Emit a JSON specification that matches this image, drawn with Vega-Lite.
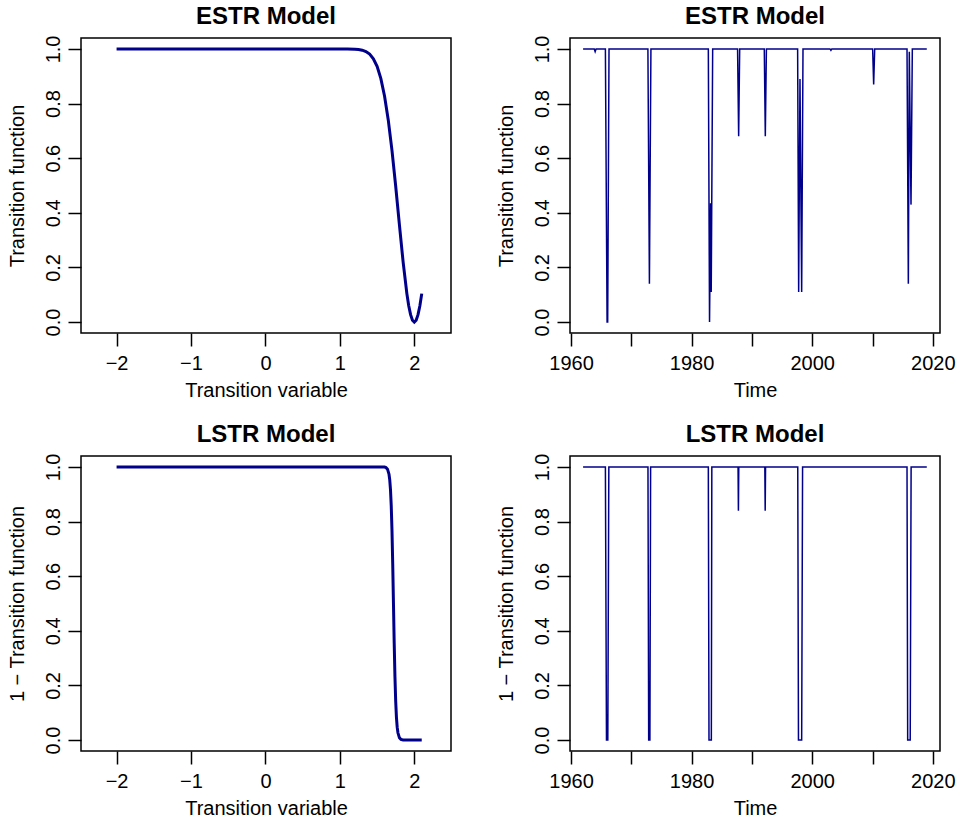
{
  "$schema": "https://vega.github.io/schema/vega-lite/v6.json",
  "padding": {"left": 6, "top": 4, "right": 0, "bottom": 0},
  "background": "white",
  "config": {
    "view": {"stroke": "black", "strokeWidth": 1.5},
    "font": "Liberation Sans",
    "axis": {"grid": false, "domain": false, "tickColor": "black", "tickWidth": 1.5, "tickSize": 13, "labelColor": "black", "labelFont": "Liberation Sans", "labelFontSize": 20, "titleFont": "Liberation Sans", "titleFontSize": 20, "titleFontWeight": "normal", "titleColor": "black", "labelFlush": false, "labelOverlap": false},
    "axisX": {"labelAngle": 0, "labelBaseline": "alphabetic", "labelPadding": 23, "titleBaseline": "alphabetic", "titleY": 63, "titleX": 185},
    "axisY": {"labelAngle": -90, "labelAlign": "center", "labelBaseline": "alphabetic", "labelPadding": 8.5, "titleAngle": -90, "titleAlign": "center", "titleBaseline": "alphabetic", "titleX": -58, "titleY": 147.5},
    "title": {"font": "Liberation Sans", "fontSize": 24, "fontWeight": "bold", "color": "black", "baseline": "alphabetic", "offset": 5.7, "frame": "group", "anchor": "middle"}
  },
  "datasets": {
    "estr_curve": [
      {"s": -2, "g": 1}, {"s": -1, "g": 1}, {"s": 0, "g": 1}, {"s": 0.5, "g": 1}, {"s": 1.0, "g": 1},
      {"s": 1.1, "g": 0.9999}, {"s": 1.2, "g": 0.9991}, {"s": 1.25, "g": 0.998}, {"s": 1.3, "g": 0.9954},
      {"s": 1.35, "g": 0.9904}, {"s": 1.4, "g": 0.9809}, {"s": 1.45, "g": 0.9641}, {"s": 1.5, "g": 0.9361},
      {"s": 1.55, "g": 0.8922}, {"s": 1.6, "g": 0.828}, {"s": 1.65, "g": 0.7401}, {"s": 1.7, "g": 0.6284},
      {"s": 1.75, "g": 0.4972}, {"s": 1.8, "g": 0.356}, {"s": 1.85, "g": 0.2193}, {"s": 1.9, "g": 0.1042},
      {"s": 1.925, "g": 0.06}, {"s": 1.95, "g": 0.0271}, {"s": 1.975, "g": 0.0069}, {"s": 2.0, "g": 0},
      {"s": 2.025, "g": 0.0069}, {"s": 2.05, "g": 0.0271}, {"s": 2.075, "g": 0.06}, {"s": 2.1, "g": 0.1042}
    ],
    "lstr_curve": [
      {"s": -2, "g": 1}, {"s": -1, "g": 1}, {"s": 0, "g": 1}, {"s": 1, "g": 1}, {"s": 1.5, "g": 1},
      {"s": 1.6, "g": 0.9993}, {"s": 1.62, "g": 0.9975}, {"s": 1.64, "g": 0.9918}, {"s": 1.66, "g": 0.9734},
      {"s": 1.67, "g": 0.9526}, {"s": 1.68, "g": 0.9168}, {"s": 1.69, "g": 0.8581}, {"s": 1.7, "g": 0.7685},
      {"s": 1.71, "g": 0.6457}, {"s": 1.72, "g": 0.5}, {"s": 1.73, "g": 0.3543}, {"s": 1.74, "g": 0.2315},
      {"s": 1.75, "g": 0.1419}, {"s": 1.76, "g": 0.0832}, {"s": 1.77, "g": 0.0474}, {"s": 1.78, "g": 0.0266},
      {"s": 1.8, "g": 0.0082}, {"s": 1.82, "g": 0.0025}, {"s": 1.85, "g": 0.0004}, {"s": 1.9, "g": 0},
      {"s": 2.0, "g": 0}, {"s": 2.1, "g": 0}
    ],
    "estr_time": [
      {"year": 1962.0, "g": 1}, {"year": 1963.85, "g": 1}, {"year": 1964.0, "g": 0.99}, {"year": 1964.15, "g": 1},
      {"year": 1965.7, "g": 1}, {"year": 1965.98, "g": 0}, {"year": 1966.08, "g": 0}, {"year": 1966.3, "g": 1},
      {"year": 1972.75, "g": 1}, {"year": 1973.0, "g": 0.14}, {"year": 1973.25, "g": 1},
      {"year": 1982.77, "g": 1}, {"year": 1982.97, "g": 0}, {"year": 1983.15, "g": 0.435}, {"year": 1983.25, "g": 0.11}, {"year": 1983.49, "g": 1},
      {"year": 1987.62, "g": 1}, {"year": 1987.8, "g": 0.68}, {"year": 1987.97, "g": 1},
      {"year": 1992.05, "g": 1}, {"year": 1992.22, "g": 0.68}, {"year": 1992.4, "g": 1},
      {"year": 1997.58, "g": 1}, {"year": 1997.75, "g": 0.11}, {"year": 1997.97, "g": 0.89}, {"year": 1998.25, "g": 0.11}, {"year": 1998.47, "g": 1},
      {"year": 2002.95, "g": 1}, {"year": 2003.1, "g": 0.995}, {"year": 2003.25, "g": 1},
      {"year": 2010.02, "g": 1}, {"year": 2010.19, "g": 0.87}, {"year": 2010.36, "g": 1},
      {"year": 2015.72, "g": 1}, {"year": 2015.94, "g": 0.14}, {"year": 2016.1, "g": 0.99}, {"year": 2016.38, "g": 0.43}, {"year": 2016.6, "g": 1},
      {"year": 2019.0, "g": 1}
    ],
    "lstr_time": [
      {"year": 1962.0, "g": 1},
      {"year": 1965.7, "g": 1}, {"year": 1965.88, "g": 0}, {"year": 1966.1, "g": 0}, {"year": 1966.27, "g": 1},
      {"year": 1972.76, "g": 1}, {"year": 1972.88, "g": 0}, {"year": 1973.08, "g": 0}, {"year": 1973.2, "g": 1},
      {"year": 1982.77, "g": 1}, {"year": 1982.88, "g": 0}, {"year": 1983.27, "g": 0}, {"year": 1983.35, "g": 1},
      {"year": 1987.7, "g": 1}, {"year": 1987.76, "g": 0.84}, {"year": 1987.82, "g": 1},
      {"year": 1992.14, "g": 1}, {"year": 1992.2, "g": 0.84}, {"year": 1992.26, "g": 1},
      {"year": 1997.6, "g": 1}, {"year": 1997.72, "g": 0}, {"year": 1998.25, "g": 0}, {"year": 1998.4, "g": 1},
      {"year": 2015.72, "g": 1}, {"year": 2015.83, "g": 0}, {"year": 2016.25, "g": 0}, {"year": 2016.4, "g": 1},
      {"year": 2019.0, "g": 1}
    ]
  },
  "columns": 2,
  "spacing": {"row": 123, "column": 119},
  "bounds": "flush",
  "concat": [
    {
      "title": "ESTR Model",
      "width": 370, "height": 295,
      "data": {"name": "estr_curve"},
      "mark": {"type": "line", "color": "#00008B", "strokeWidth": 3},
      "encoding": {
        "x": {"field": "s", "type": "quantitative", "scale": {"domain": [-2.478, 2.493], "nice": false, "zero": false}, "axis": {"values": [-2, -1, 0, 1, 2], "format": "d", "title": "Transition variable"}},
        "y": {"field": "g", "type": "quantitative", "scale": {"domain": [-0.04, 1.04], "nice": false, "zero": false}, "axis": {"values": [0, 0.2, 0.4, 0.6, 0.8, 1], "format": ".1f", "title": "Transition function"}}
      }
    },
    {
      "title": "ESTR Model",
      "width": 370, "height": 295,
      "data": {"name": "estr_time"},
      "mark": {"type": "line", "color": "#00008B", "strokeWidth": 1.5},
      "encoding": {
        "x": {"field": "year", "type": "quantitative", "scale": {"domain": [1959.83, 2021.19], "nice": false, "zero": false}, "axis": {"values": [1960, 1970, 1980, 1990, 2000, 2010, 2020], "format": "d", "labelExpr": "datum.value % 20 === 0 ? datum.label : ''", "title": "Time"}},
        "y": {"field": "g", "type": "quantitative", "scale": {"domain": [-0.04, 1.04], "nice": false, "zero": false}, "axis": {"values": [0, 0.2, 0.4, 0.6, 0.8, 1], "format": ".1f", "title": "Transition function"}}
      }
    },
    {
      "title": "LSTR Model",
      "width": 370, "height": 295,
      "data": {"name": "lstr_curve"},
      "mark": {"type": "line", "color": "#00008B", "strokeWidth": 3},
      "encoding": {
        "x": {"field": "s", "type": "quantitative", "scale": {"domain": [-2.478, 2.493], "nice": false, "zero": false}, "axis": {"values": [-2, -1, 0, 1, 2], "format": "d", "title": "Transition variable"}},
        "y": {"field": "g", "type": "quantitative", "scale": {"domain": [-0.04, 1.04], "nice": false, "zero": false}, "axis": {"values": [0, 0.2, 0.4, 0.6, 0.8, 1], "format": ".1f", "title": "1 − Transition function"}}
      }
    },
    {
      "title": "LSTR Model",
      "width": 370, "height": 295,
      "data": {"name": "lstr_time"},
      "mark": {"type": "line", "color": "#00008B", "strokeWidth": 1.5},
      "encoding": {
        "x": {"field": "year", "type": "quantitative", "scale": {"domain": [1959.83, 2021.19], "nice": false, "zero": false}, "axis": {"values": [1960, 1970, 1980, 1990, 2000, 2010, 2020], "format": "d", "labelExpr": "datum.value % 20 === 0 ? datum.label : ''", "title": "Time"}},
        "y": {"field": "g", "type": "quantitative", "scale": {"domain": [-0.04, 1.04], "nice": false, "zero": false}, "axis": {"values": [0, 0.2, 0.4, 0.6, 0.8, 1], "format": ".1f", "title": "1 − Transition function"}}
      }
    }
  ]
}
